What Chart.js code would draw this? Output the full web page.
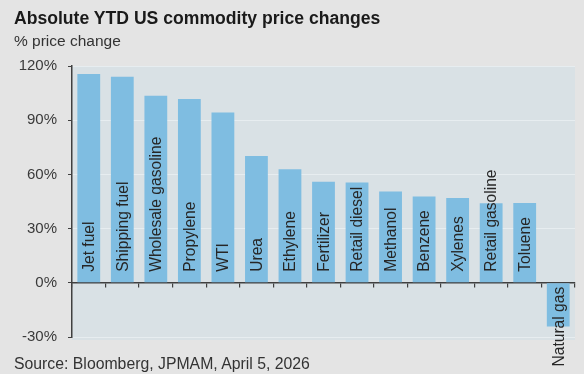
<!DOCTYPE html>
<html>
<head>
<meta charset="utf-8">
<script src="https://cdn.jsdelivr.net/npm/chart.js@4.4.1/dist/chart.umd.min.js"></script>
<style>
  html, body { margin: 0; padding: 0; background: #e4e4e4; }
  #wrap { position: relative; width: 584px; height: 374px; overflow: hidden; font-family: "Liberation Sans", Arial, sans-serif; }
  #title { position: absolute; left: 14px; top: 8px; font-size: 17.6px; font-weight: bold; color: #1a1a1a; white-space: nowrap; }
  #subtitle { position: absolute; left: 14px; top: 32px; font-size: 15.5px; color: #333; white-space: nowrap; }
  #source { position: absolute; left: 14px; top: 355px; font-size: 15.8px; color: #333; white-space: nowrap; }
  canvas { position: absolute; left: 0; top: 0; }
</style>
</head>
<body>
<div id="wrap">
  <canvas id="c" width="584" height="374"></canvas>
  <div id="title">Absolute YTD US commodity price changes</div>
  <div id="subtitle">% price change</div>
  <div id="source">Source: Bloomberg, JPMAM, April 5, 2026</div>
</div>
<script>
const categories = ["Jet fuel", "Shipping fuel", "Wholesale gasoline", "Propylene", "WTI", "Urea", "Ethylene", "Fertilizer", "Retail diesel", "Methanol", "Benzene", "Xylenes", "Retail gasoline", "Toluene", "Natural gas"];
const priceChange = [115.6, 114.1, 103.6, 101.8, 94.2, 70.2, 62.9, 56.0, 55.5, 50.5, 47.7, 47.0, 44.1, 44.2, -24.2];
const yTicks = [-30, 0, 30, 60, 90, 120];

const panelBg = {
  id: 'panelBg',
  beforeDraw(chart) {
    const { ctx, chartArea } = chart;
    ctx.save();
    ctx.fillStyle = '#d9e1e5';
    ctx.fillRect(chartArea.left, chartArea.top, chartArea.right - chartArea.left, chartArea.bottom - chartArea.top + 3);
    ctx.restore();
  }
};

const barLabels = {
  id: 'barLabels',
  afterDatasetsDraw(chart) {
    const { ctx } = chart;
    const meta = chart.getDatasetMeta(0);
    const zero = chart.scales.y.getPixelForValue(0);
    ctx.save();
    ctx.font = '15.6px "Liberation Sans", Arial, sans-serif';
    ctx.fillStyle = '#262626';
    ctx.textBaseline = 'middle';
    meta.data.forEach((bar, i) => {
      const v = priceChange[i];
      ctx.save();
      if (v >= 0) {
        ctx.translate(bar.x, zero - 11);
        ctx.rotate(-Math.PI / 2);
        ctx.textAlign = 'left';
      } else {
        ctx.translate(bar.x, zero + 4);
        ctx.rotate(-Math.PI / 2);
        ctx.textAlign = 'right';
      }
      ctx.fillText(categories[i], 0, 1);
      ctx.restore();
    });
    ctx.restore();
  }
};

new Chart(document.getElementById('c'), {
  type: 'bar',
  data: {
    labels: categories,
    datasets: [{
      data: priceChange,
      backgroundColor: '#7fbde1',
      borderWidth: 0,
      categoryPercentage: 0.68,
      barPercentage: 1.0
    }]
  },
  plugins: [panelBg, barLabels],
  options: {
    responsive: false,
    animation: false,
    layout: { padding: { left: 0, right: 9, top: 66, bottom: 37 } },
    plugins: { legend: { display: false }, tooltip: { enabled: false } },
    scales: {
      x: {
        position: { y: 0 },
        offset: true,
        grid: { display: true, drawOnChartArea: false, drawTicks: true, tickLength: 4, color: '#404040', lineWidth: 1.2, offset: true },
        border: { display: true, color: '#404040', width: 1.5 },
        ticks: { display: false }
      },
      y: {
        min: -30,
        max: 120,
        afterFit(scale) { scale.width = 72; },
        afterBuildTicks(scale) { scale.ticks = yTicks.map(v => ({ value: v })); },
        grid: { color: 'rgba(236,242,245,0.7)', lineWidth: 1, drawTicks: true, tickLength: 4, tickColor: '#404040' },
        border: { display: true, color: '#404040', width: 1.5 },
        ticks: {
          padding: 11,
          color: '#3a3a3a',
          font: { size: 15, family: '"Liberation Sans", Arial, sans-serif' },
          callback: v => v + '%'
        }
      }
    }
  }
});
</script>
</body>
</html>
